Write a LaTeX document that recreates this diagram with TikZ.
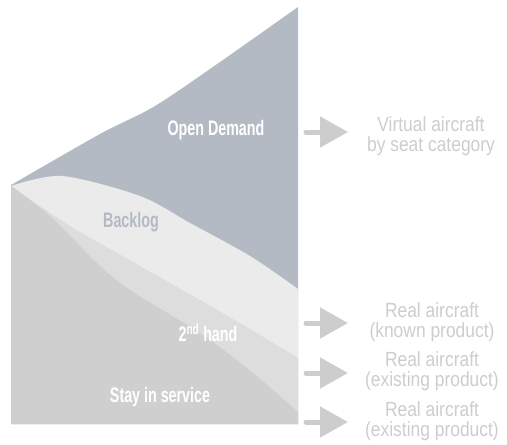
\documentclass[tikz,border=0pt]{standalone}
\usepackage{fontspec}
\setmainfont{Liberation Sans}
\newfontfamily\condfont{Liberation Sans}[FakeStretch=0.68]
\newfontfamily\notefont{Liberation Sans}[FakeStretch=0.85]
\usepackage{xcolor}
\definecolor{fcdemand}{RGB}{180,186,196}
\definecolor{fcbacklog}{RGB}{235,235,235}
\definecolor{fcsecond}{RGB}{222,221,222}
\definecolor{fcservice}{RGB}{208,207,208}
\definecolor{fcnote}{RGB}{206,205,206}
\usepackage{tikz}
\usetikzlibrary{arrows.meta, positioning}

\tikzset{
  zonelabel/.style={font=\condfont\bfseries\fontsize{21}{22}\selectfont, white},
  notelabel/.style={font=\notefont\fontsize{20.5}{20}\selectfont, fcnote, align=center, inner sep=0pt},
  feedarrow/.style={fcnote, line width=5pt, line cap=round, -{Triangle[length=28pt, width=30pt]}}
}

\begin{document}
\begin{tikzpicture}[x=1pt, y=-1pt]
  \useasboundingbox (0,0) rectangle (507,445);

  % --- Stacked areas ---
  \fill[fcdemand] plot[smooth] coordinates {(11,185) (100,134) (155,106) (220,62) (298,7)}
    -- (298,424) -- (11,424) -- cycle;
  \fill[fcbacklog] plot[smooth] coordinates {(11,186) (62,176) (140,196) (190,223) (250,256) (298,289)}
    -- (298,424) -- (11,424) -- cycle;
  \fill[fcsecond] plot[smooth] coordinates {(11,186) (70,226) (133,262) (200,300) (255,332) (298,358)}
    -- (298,424) -- (11,424) -- cycle;
  \fill[fcservice] plot[smooth] coordinates {(11,186) (50,216) (100,266) (133,292) (200,333) (253,373) (298,412)}
    -- (298,424) -- (11,424) -- cycle;

  % --- Zone labels ---
  \node[zonelabel] (demand) at (216,130) {Open Demand};
  \node[zonelabel, text=fcdemand] (backlog) at (131,222) {Backlog};
  \node[zonelabel] (second) at (208,333) {2\textsuperscript{nd} hand};
  \node[zonelabel] (service) at (160,397) {Stay in service};

  % --- Outputs ---
  \node[notelabel] (virtual) at (431,136) {Virtual aircraft\\by seat category};
  \node[notelabel] (known) at (432,322) {Real aircraft\\(known product)};
  \node[notelabel] (exist1) at (432,371) {Real aircraft\\(existing product)};
  \node[notelabel] (exist2) at (432,421) {Real aircraft\\(existing product)};

  \coordinate (tail1) at (306,132);
  \coordinate (tip1) at (348,132);
  \coordinate (tail2) at (306,323);
  \coordinate (tip2) at (348,323);
  \coordinate (tail3) at (306,373);
  \coordinate (tip3) at (348,373);
  \coordinate (tail4) at (306,422);
  \coordinate (tip4) at (348,422);
  \foreach \i in {1,...,4}
    \draw[feedarrow] (tail\i) -- (tip\i);
\end{tikzpicture}
\end{document}
